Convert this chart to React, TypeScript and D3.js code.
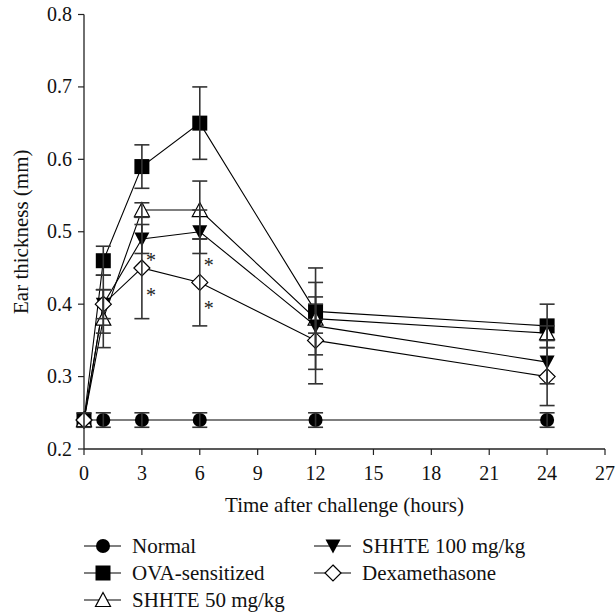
import { useEffect } from "react";
import * as d3 from "d3";

const hours = [0, 1, 3, 6, 12, 24];
const seriesNames = ["Normal", "OVA-sensitized", "SHHTE 50 mg/kg", "SHHTE 100 mg/kg", "Dexamethasone"];
const normal = [0.24, 0.24, 0.24, 0.24, 0.24, 0.24];
const normalErr = [0.01, 0.01, 0.01, 0.01, 0.01, 0.01];
const ova = [0.24, 0.46, 0.59, 0.65, 0.39, 0.37];
const ovaErr = [0, 0.02, 0.03, 0.05, 0.06, 0.03];
const shhte50 = [0.24, 0.38, 0.53, 0.53, 0.38, 0.36];
const shhte50Err = [0, 0.04, 0.01, 0.04, 0.02, 0.01];
const shhte100 = [0.24, 0.4, 0.49, 0.5, 0.37, 0.32];
const shhte100Err = [0, 0.04, 0.02, 0.03, 0.06, 0.03];
const dexa = [0.24, 0.4, 0.45, 0.43, 0.35, 0.3];
const dexaErr = [0, 0.02, 0.07, 0.06, 0.06, 0.04];
const xTicks = [0, 3, 6, 9, 12, 15, 18, 21, 24, 27];
const yTicks = [0.2, 0.3, 0.4, 0.5, 0.6, 0.7, 0.8];
// significance marks: [hour, value]
const stars = [[3, 0.467], [3, 0.418], [6, 0.459], [6, 0.4]];

const W = 616;
const H = 613;
const font = "'Liberation Serif', 'Times New Roman', serif";
const ink = "#222";

const x = d3.scaleLinear().domain([0, 27]).range([84, 605]);
const y = d3.scaleLinear().domain([0.2, 0.8]).range([449, 14.5]);

const values = [normal, ova, shhte50, shhte100, dexa];
const errors = [normalErr, ovaErr, shhte50Err, shhte100Err, dexaErr];

function Marker({ kind, cx, cy }: { kind: number; cx: number; cy: number }) {
  if (kind === 0) return <circle cx={cx} cy={cy} r={7} fill="#000" />;
  if (kind === 1) return <rect x={cx - 7.5} y={cy - 7.5} width={15} height={15} fill="#000" />;
  if (kind === 2)
    return (
      <path
        d={`M${cx},${cy - 7.5}L${cx + 7.5},${cy + 6.5}L${cx - 7.5},${cy + 6.5}Z`}
        fill="#fff"
        stroke="#000"
        strokeWidth={1.2}
      />
    );
  if (kind === 3)
    return <path d={`M${cx - 7.5},${cy - 6.5}L${cx + 7.5},${cy - 6.5}L${cx},${cy + 7.5}Z`} fill="#000" />;
  return (
    <path
      d={`M${cx},${cy - 8}L${cx + 8},${cy}L${cx},${cy + 8}L${cx - 8},${cy}Z`}
      fill="#fff"
      stroke="#000"
      strokeWidth={1.2}
    />
  );
}

export default function App() {
  useEffect(() => {
    document.body.style.margin = "0";
  }, []);

  const line = d3
    .line<number>()
    .x((d, i) => x(hours[i]))
    .y((d) => y(d));

  const legendPos = [
    [103, 546],
    [103, 573],
    [103, 600],
    [333, 546],
    [333, 573],
  ];

  return (
    <svg width={W} height={H} style={{ display: "block", background: "#fff" }} fontFamily={font}>
      {/* axes */}
      <line x1={x(0)} x2={x(27)} y1={y(0.2)} y2={y(0.2)} stroke={ink} strokeWidth={1.3} />
      <line x1={x(0)} x2={x(0)} y1={y(0.2)} y2={y(0.8)} stroke={ink} strokeWidth={1.3} />
      {xTicks.map((t) => (
        <g key={"x" + t}>
          <line x1={x(t)} x2={x(t)} y1={y(0.2)} y2={y(0.2) + 6} stroke={ink} strokeWidth={1.2} />
          <text x={x(t)} y={480} textAnchor="middle" fontSize={20} fill="#111">
            {t}
          </text>
        </g>
      ))}
      {yTicks.map((t) => (
        <g key={"y" + t}>
          <line x1={x(0) - 6} x2={x(0)} y1={y(t)} y2={y(t)} stroke={ink} strokeWidth={1.2} />
          <text x={72} y={y(t) + 6.5} textAnchor="end" fontSize={20} fill="#111">
            {t.toFixed(1)}
          </text>
        </g>
      ))}
      <text x={x(13.5)} y={512} textAnchor="middle" fontSize={21} fill="#111">
        Time after challenge (hours)
      </text>
      <text
        transform={`translate(28,${(y(0.2) + y(0.8)) / 2}) rotate(-90)`}
        textAnchor="middle"
        fontSize={21}
        fill="#111"
      >
        Ear thickness (mm)
      </text>

      {/* series lines */}
      {values.map((v, s) => (
        <path key={"l" + s} d={line(v) || ""} fill="none" stroke="#000" strokeWidth={1.1} />
      ))}

      {/* markers */}
      {values.map((v, s) =>
        v.map((d, i) => <Marker key={`m${s}-${i}`} kind={s} cx={x(hours[i])} cy={y(d)} />)
      )}

      {/* error bars */}
      {values.map((v, s) =>
        v.map((d, i) => {
          const e = errors[s][i];
          if (!e) return null;
          const cx = x(hours[i]);
          return (
            <g key={`e${s}-${i}`} stroke="#333" strokeWidth={1.6}>
              <line x1={cx} x2={cx} y1={y(d - e)} y2={y(d + e)} />
              <line x1={cx - 7.5} x2={cx + 7.5} y1={y(d - e)} y2={y(d - e)} />
              <line x1={cx - 7.5} x2={cx + 7.5} y1={y(d + e)} y2={y(d + e)} />
            </g>
          );
        })
      )}

      {stars.map(([h, v], i) => (
        <text key={"s" + i} x={x(h) + 9} y={y(v) + 11} textAnchor="middle" fontSize={20} fill="#222">
          *
        </text>
      ))}

      {/* legend */}
      {seriesNames.map((name, s) => {
        const [lx, ly] = legendPos[s];
        return (
          <g key={"lg" + s}>
            <line x1={lx - 19} x2={lx + 18} y1={ly} y2={ly} stroke="#000" strokeWidth={1.2} />
            <Marker kind={s} cx={lx} cy={ly} />
            <text x={lx + 29} y={ly + 7} fontSize={21} fill="#111">
              {name}
            </text>
          </g>
        );
      })}
    </svg>
  );
}
